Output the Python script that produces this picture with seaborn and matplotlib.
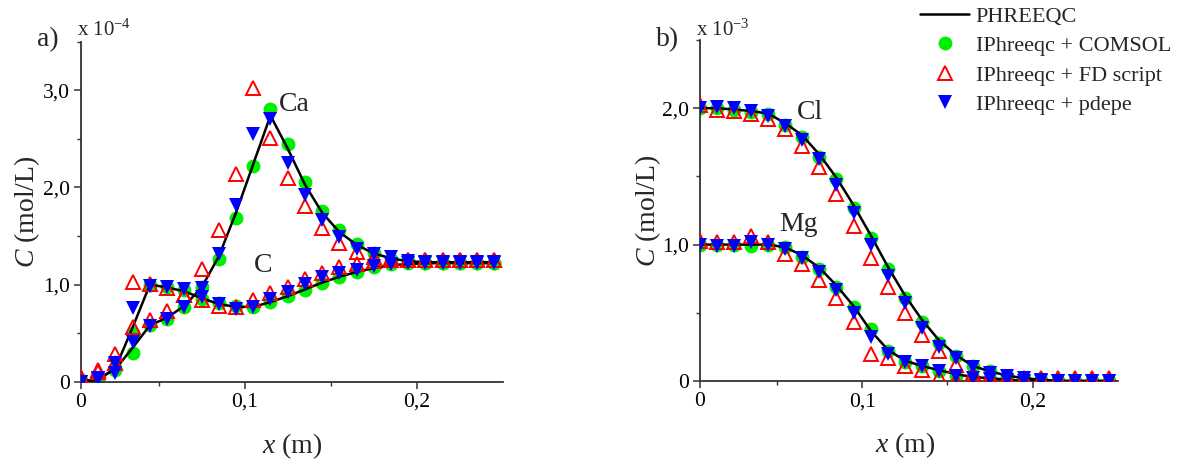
import numpy as np
import pandas as pd
import matplotlib
matplotlib.use("Agg")
import matplotlib.pyplot as plt
from matplotlib.lines import Line2D
from matplotlib.ticker import MultipleLocator, FixedLocator, FixedFormatter
import seaborn as sns

# ---------------- data ----------------
x = [0.005, 0.015, 0.025, 0.035, 0.045, 0.055, 0.065, 0.075, 0.085, 0.095,
     0.105, 0.115, 0.125, 0.135, 0.145, 0.155, 0.165, 0.175, 0.185, 0.195,
     0.205, 0.215, 0.225, 0.235, 0.245]

# panel a) values in 1e-4 mol/L
ca_phreeqc = [0.0, 0.03, 0.13, 0.35, 0.58, 0.66, 0.78, 0.97, 1.29, 1.74, 2.24, 2.74, 2.40, 2.03, 1.74, 1.54, 1.41, 1.32, 1.27, 1.24, 1.23, 1.23, 1.23, 1.23, 1.23]
ca_comsol  = [0.0, 0.03, 0.12, 0.30, 0.58, 0.65, 0.77, 0.97, 1.26, 1.69, 2.22, 2.81, 2.45, 2.06, 1.76, 1.56, 1.42, 1.33, 1.26, 1.24, 1.22, 1.22, 1.22, 1.22, 1.22]
ca_fd      = [0.03, 0.10, 0.19, 0.56, 0.64, 0.73, 0.89, 1.16, 1.56, 2.14, 3.02, 2.51, 2.10, 1.81, 1.58, 1.43, 1.34, 1.28, 1.27, 1.25, 1.25, 1.25, 1.25, 1.25, 1.25]
ca_pdepe   = [0.0, 0.03, 0.09, 0.41, 0.57, 0.65, 0.77, 0.96, 1.31, 1.82, 2.55, 2.70, 2.25, 1.92, 1.66, 1.49, 1.37, 1.31, 1.28, 1.24, 1.23, 1.23, 1.23, 1.23, 1.23]

c_phreeqc = [0.0, 0.02, 0.14, 0.56, 1.00, 0.97, 0.93, 0.86, 0.80, 0.77, 0.77, 0.82, 0.88, 0.95, 1.02, 1.08, 1.13, 1.17, 1.20, 1.21, 1.22, 1.22, 1.22, 1.22, 1.22]
c_comsol  = [0.02, 0.03, 0.14, 0.50, 1.00, 0.97, 0.94, 0.85, 0.81, 0.78, 0.77, 0.82, 0.88, 0.94, 1.02, 1.08, 1.13, 1.18, 1.21, 1.22, 1.22, 1.22, 1.22, 1.22, 1.22]
c_fd      = [0.05, 0.12, 0.29, 1.03, 1.01, 0.96, 0.89, 0.84, 0.78, 0.77, 0.84, 0.91, 0.98, 1.06, 1.12, 1.18, 1.21, 1.24, 1.25, 1.25, 1.25, 1.25, 1.25, 1.25, 1.25]
c_pdepe   = [0.0, 0.04, 0.19, 0.76, 0.99, 0.97, 0.95, 0.87, 0.80, 0.75, 0.77, 0.85, 0.92, 1.01, 1.08, 1.12, 1.15, 1.19, 1.21, 1.22, 1.22, 1.22, 1.22, 1.22, 1.22]

# panel b) values in 1e-3 mol/L
cl_phreeqc = [2.00, 2.00, 1.99, 1.98, 1.96, 1.89, 1.80, 1.66, 1.49, 1.29, 1.07, 0.84, 0.63, 0.45, 0.30, 0.19, 0.11, 0.07, 0.04, 0.02, 0.01, 0.0, 0.0, 0.0, 0.0]
cl_comsol  = [2.00, 2.00, 1.99, 1.97, 1.96, 1.88, 1.79, 1.64, 1.48, 1.27, 1.05, 0.82, 0.61, 0.43, 0.28, 0.18, 0.11, 0.07, 0.04, 0.02, 0.01, 0.0, 0.0, 0.0, 0.0]
cl_fd      = [2.02, 1.99, 1.98, 1.96, 1.92, 1.85, 1.72, 1.57, 1.37, 1.14, 0.90, 0.69, 0.50, 0.34, 0.22, 0.12, 0.06, 0.04, 0.03, 0.02, 0.02, 0.02, 0.02, 0.02, 0.02]
cl_pdepe   = [2.00, 2.01, 2.00, 1.98, 1.94, 1.87, 1.77, 1.63, 1.44, 1.23, 1.00, 0.77, 0.57, 0.39, 0.25, 0.17, 0.10, 0.06, 0.04, 0.02, 0.01, 0.0, 0.0, 0.0, 0.0]

mg_phreeqc = [1.00, 1.00, 1.00, 1.00, 1.00, 0.98, 0.92, 0.83, 0.70, 0.55, 0.37, 0.23, 0.15, 0.11, 0.08, 0.05, 0.03, 0.02, 0.01, 0.0, 0.0, 0.0, 0.0, 0.0, 0.0]
mg_comsol  = [1.00, 1.00, 1.00, 0.99, 1.00, 0.98, 0.91, 0.82, 0.69, 0.54, 0.38, 0.22, 0.14, 0.11, 0.07, 0.04, 0.025, 0.015, 0.01, 0.0, 0.0, 0.0, 0.0, 0.0, 0.0]
mg_fd      = [1.03, 1.02, 1.02, 1.06, 1.02, 0.93, 0.86, 0.74, 0.61, 0.43, 0.20, 0.17, 0.11, 0.08, 0.03, 0.01, 0.01, 0.01, 0.01, 0.01, 0.01, 0.01, 0.01, 0.01, 0.01]
mg_pdepe   = [1.00, 0.99, 0.99, 1.02, 1.00, 0.97, 0.90, 0.80, 0.67, 0.50, 0.32, 0.20, 0.14, 0.11, 0.07, 0.04, 0.025, 0.015, 0.01, 0.0, 0.0, 0.0, 0.0, 0.0, 0.0]

x_ticklabels = ["0", "0,1", "0,2"]
ya_ticklabels = ["0", "1,0", "2,0", "3,0"]
yb_ticklabels = ["0", "1,0", "2,0"]
legend_labels = ["PHREEQC", "IPhreeqc + COMSOL", "IPhreeqc + FD script", "IPhreeqc + pdepe"]

# ---------------- style ----------------
sns.set_theme(style="ticks")
plt.rcParams["font.family"] = ["Liberation Serif", "DejaVu Serif"]
plt.rcParams["mathtext.fontset"] = "custom"
plt.rcParams["mathtext.rm"] = "Liberation Serif"
plt.rcParams["mathtext.it"] = "Liberation Serif:italic"

GREEN = "#00ee00"
RED = "#ff0000"
BLUE = "#0000ff"
MS = 10

fig = plt.figure(figsize=(11.81, 4.59), dpi=100)
W, H = 1181, 459
ax1 = fig.add_axes([81 / W, 1 - 381.7 / H, 422 / W, 340 / H])
ax2 = fig.add_axes([700 / W, 1 - 381 / H, 418 / W, 341 / H])


def draw_series(ax, phreeqc, comsol, fd, pdepe):
    sns.lineplot(x=x, y=comsol, ax=ax, marker="o", linestyle="", color=GREEN,
                 markersize=MS, markeredgewidth=0, zorder=2)
    sns.lineplot(x=x, y=phreeqc, ax=ax, color="black", linewidth=1.8, zorder=3)
    sns.lineplot(x=x, y=fd, ax=ax, marker="^", linestyle="", color=RED,
                 markersize=MS, markerfacecolor="none", markeredgecolor=RED,
                 markeredgewidth=1.4, zorder=4)
    sns.lineplot(x=x, y=pdepe, ax=ax, marker="v", linestyle="", color=BLUE,
                 markersize=MS, markeredgewidth=0, zorder=5)


draw_series(ax1, ca_phreeqc, ca_comsol, ca_fd, ca_pdepe)
draw_series(ax1, c_phreeqc, c_comsol, c_fd, c_pdepe)
draw_series(ax2, cl_phreeqc, cl_comsol, cl_fd, cl_pdepe)
draw_series(ax2, mg_phreeqc, mg_comsol, mg_fd, mg_pdepe)

tick_fs = 15.5
label_fs = 20

for ax, ymax, ylabels in ((ax1, 3.5, ya_ticklabels), (ax2, 2.5, yb_ticklabels)):
    sns.despine(ax=ax)
    ax.set_xlim(0.005, 0.25)
    ax.set_ylim(0, ymax)
    ax.xaxis.set_major_locator(FixedLocator([0.005, 0.1, 0.2]))
    ax.xaxis.set_major_formatter(FixedFormatter(x_ticklabels))
    ax.xaxis.set_minor_locator(FixedLocator([0.05, 0.15]))
    ax.yaxis.set_major_locator(FixedLocator(list(range(len(ylabels)))))
    ax.yaxis.set_major_formatter(FixedFormatter(ylabels))
    ax.yaxis.set_minor_locator(MultipleLocator(0.5))
    ax.tick_params(which="major", direction="out", length=5, width=1.1,
                   labelsize=tick_fs, pad=3, color="#333333", labelcolor="black")
    ax.tick_params(which="minor", direction="out", length=3, width=1.0, color="#333333")
    for s in ("left", "bottom"):
        ax.spines[s].set_linewidth(1.3)
        ax.spines[s].set_color("#333333")
    ax.set_xlabel(r"$\mathit{x}$ (m)", fontsize=label_fs)
    ax.set_ylabel(r"$\mathit{C}$ (mol/L)", fontsize=label_fs)
    ax.set_facecolor("white")

ax1.yaxis.set_label_coords(-0.092, 0.5)
ax1.xaxis.set_label_coords(0.5, -0.145)
ax2.yaxis.set_label_coords(-0.088, 0.5)
ax2.xaxis.set_label_coords(0.49, -0.145)

# species annotations
ax1.text(0.120, 2.79, "Ca", fontsize=label_fs, va="baseline", ha="left")
ax1.text(0.1056, 1.125, "C", fontsize=label_fs, va="baseline", ha="left")
ax2.text(0.0617, 1.92, "Cl", fontsize=label_fs, va="baseline", ha="left")
ax2.text(0.0512, 1.10, "Mg", fontsize=label_fs, va="baseline", ha="left")

# panel letters and multipliers
fig.text(37 / W, 1 - 46 / H, "a)", fontsize=label_fs, va="baseline", ha="left")
fig.text(77 / W, 1 - 36 / H, r"x 10$^{-4}$", fontsize=15, va="baseline", ha="left")
fig.text(656 / W, 1 - 46 / H, "b)", fontsize=label_fs, va="baseline", ha="left")
fig.text(696 / W, 1 - 36 / H, r"x 10$^{-3}$", fontsize=15, va="baseline", ha="left")

# legend
handles = [
    Line2D([], [], color="black", linewidth=1.8),
    Line2D([], [], marker="o", linestyle="", color=GREEN, markersize=MS, markeredgewidth=0),
    Line2D([], [], marker="^", linestyle="", markerfacecolor="none", markeredgecolor=RED,
           markersize=MS, markeredgewidth=1.4),
    Line2D([], [], marker="v", linestyle="", color=BLUE, markersize=MS, markeredgewidth=0),
]
fig.legend(handles, legend_labels, loc="upper left",
           bbox_to_anchor=(918 / W, 1 - 4 / H), bbox_transform=fig.transFigure,
           frameon=False, fontsize=16, handlelength=2.2, handletextpad=0.3,
           labelspacing=0.40, borderaxespad=0, borderpad=0.1)

fig.patch.set_facecolor("white")
fig.savefig("out.png", dpi=100, facecolor="white")
